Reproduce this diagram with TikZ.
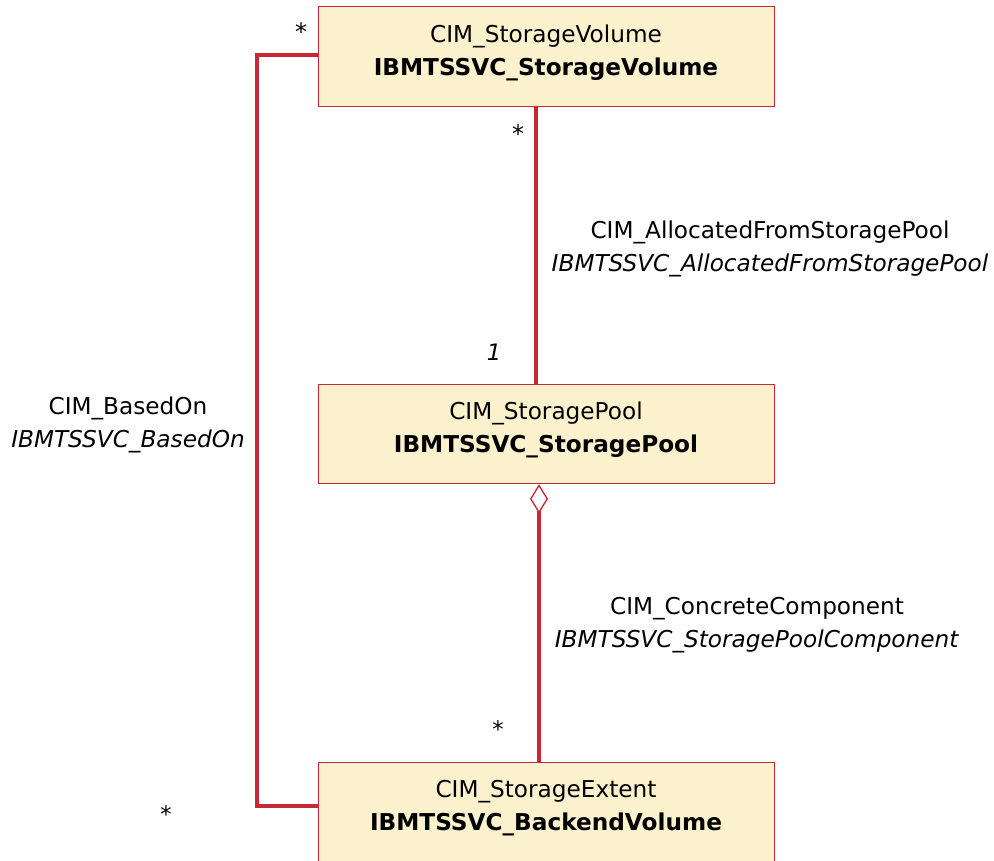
\documentclass[tikz,border=0pt]{standalone}
\usepackage{fontspec}
\setmainfont{DejaVu Sans}
\usetikzlibrary{arrows.meta, calc}
\definecolor{linkred}{RGB}{200,40,52}
\definecolor{classfill}{RGB}{251,241,205}
\begin{document}
\begin{tikzpicture}[x=0.75pt, y=-0.75pt,
    font=\fontsize{17.4}{24.75}\selectfont,
    classbox/.style={draw=linkred, line width=0.75pt, fill=classfill, minimum width=342pt, minimum height=74.5pt, inner sep=0pt},
    classtext/.style={align=center, inner sep=0pt},
    assoc/.style={draw=linkred, line width=2.3pt},
    assoclabel/.style={align=center, inner sep=0pt},
    mult/.style={inner sep=0pt, font=\fontsize{17}{20}\selectfont\itshape}]
        \useasboundingbox (0, 0) rectangle (994, 860);
        % classes
        \node[classbox] (vol) at (546, 56.5) {};
        \node[classbox] (pool) at (546, 434) {};
        \node[classbox] (ext) at (546, 812) {};
        \node[classtext] (volname) at (546, 53) {CIM\_StorageVolume\\\textbf{IBMTSSVC\_StorageVolume}};
        \node[classtext] (poolname) at (546, 430) {CIM\_StoragePool\\\textbf{IBMTSSVC\_StoragePool}};
        \node[classtext] (extname) at (546, 808) {CIM\_StorageExtent\\\textbf{IBMTSSVC\_BackendVolume}};
        % associations
        \draw[assoc] ($(vol.south)+(-10, 0)$) -- ($(pool.north)+(-10, 0)$);
        \draw[assoc, {Diamond[fill=white, length=22pt, width=13.5pt, line width=1pt]}-] ($(pool.south)+(-7, 0)$) -- ($(ext.north)+(-7, 0)$);
        \coordinate (bend) at (257, 400);
        \draw[assoc] ($(vol.west)+(0, -1.5)$) -| (bend) |- ($(ext.west)+(0, -6)$);
        % association names
        \node[assoclabel] (alloc) at (770, 249) {CIM\_AllocatedFromStoragePool\\\textit{IBMTSSVC\_AllocatedFromStoragePool}};
        \node[assoclabel] (comp) at (757, 625) {CIM\_ConcreteComponent\\\textit{IBMTSSVC\_StoragePoolComponent}};
        \node[assoclabel] (based) at (128, 425) {CIM\_BasedOn\\\textit{IBMTSSVC\_BasedOn}};
        % multiplicities
        \node[mult, font=\fontsize{18}{20}\selectfont] (m1) at (301, 32) {*};
        \node[mult, font=\fontsize{18}{20}\selectfont] (m2) at (518, 134) {*};
        \node[mult] (m3) at (494, 352) {1};
        \node[mult] (m4) at (498, 729) {*};
        \node[mult] (m5) at (166, 814) {*};
    \end{tikzpicture}
\end{document}
